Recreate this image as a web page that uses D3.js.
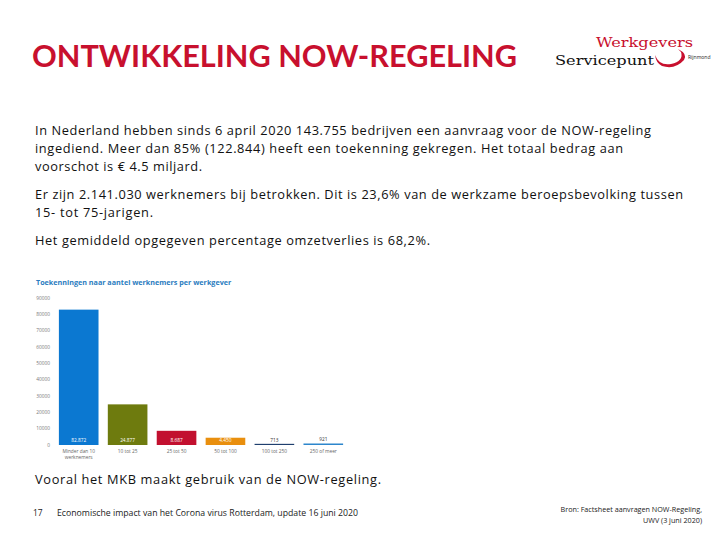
<!DOCTYPE html>
<html><head><meta charset="utf-8">
<script src="https://cdn.jsdelivr.net/npm/d3@7"></script>
<style>body{margin:0;background:#fff}svg{display:block}</style>
</head><body>
<svg id="c" width="720" height="540"></svg>
<script>
const categories = ["Minder dan 10 werknemers", "10 tot 25", "25 tot 50", "50 tot 100", "100 tot 250", "250 of meer"];
const values = [82872, 24877, 8687, 4450, 713, 921];
const valueLabels = ["82.872", "24.877", "8.687", "4.450", "713", "921"];
const yTicks = [0, 10000, 20000, 30000, 40000, 50000, 60000, 70000, 80000, 90000];
const barColors = ["#0b78d1", "#6e7b0e", "#c2102f", "#e98f0e", "#1f3f6e", "#2d86cc"];
const bodyLines = [
  ["In Nederland hebben sinds 6 april 2020 143.755 bedrijven een aanvraag voor de NOW-regeling", 135, 616],
  ["ingediend. Meer dan 85% (122.844) heeft een toekenning gekregen. Het totaal bedrag aan", 153, 588],
  ["voorschot is € 4.5 miljard.", 171, 167],
  ["Er zijn 2.141.030 werknemers bij betrokken. Dit is 23,6% van de werkzame beroepsbevolking tussen", 199, 648],
  ["15- tot 75-jarigen.", 217, 118],
  ["Het gemiddeld opgegeven percentage omzetverlies is 68,2%.", 245, 395]
];

const svg = d3.select("#c");
const font = "'Open Sans', 'Liberation Sans', sans-serif";

svg.append("text").attr("x", 32).attr("y", 67).attr("fill", "#c8102e")
  .attr("font-family", "Lato, 'Open Sans', sans-serif").attr("font-weight", "bold").attr("font-size", 30)
  .attr("textLength", 485).attr("lengthAdjust", "spacingAndGlyphs")
  .text("ONTWIKKELING NOW-REGELING");

// logo
const lg = svg.append("g");
lg.append("text").attr("x", 596).attr("y", 47).attr("fill", "#c8102e")
  .attr("font-family", "'DejaVu Serif', 'Liberation Serif', serif").attr("font-size", 13.5)
  .attr("textLength", 97).attr("lengthAdjust", "spacingAndGlyphs").text("Werkgevers");
lg.append("text").attr("x", 555).attr("y", 65).attr("fill", "#111")
  .attr("font-family", "'DejaVu Serif', 'Liberation Serif', serif").attr("font-size", 13.5)
  .attr("textLength", 99).attr("lengthAdjust", "spacingAndGlyphs").text("Servicepunt");
lg.append("path").attr("d", "M655,55 Q659,66 671,64 Q684,61 681,52 L678,49 Q688,54 684,60 Q675,70 662,66 Q656,63 655,55 Z")
  .attr("fill", "#c8102e");
lg.append("text").attr("x", 688).attr("y", 59).attr("fill", "#222")
  .attr("font-family", font).attr("font-size", 5).text("Rijnmond");

// body text
svg.append("g").selectAll("text").data(bodyLines).join("text")
  .attr("x", 35).attr("y", d => d[1]).attr("fill", "#111")
  .attr("font-family", font).attr("font-size", 12.8)
  .attr("textLength", d => d[2]).attr("lengthAdjust", "spacing")
  .text(d => d[0]);

// chart
svg.append("text").attr("x", 36).attr("y", 285).attr("fill", "#2a7cc0")
  .attr("font-family", font).attr("font-weight", "bold").attr("font-size", 7.2)
  .text("Toekenningen naar aantel werknemers per werkgever");

const x = d3.scaleBand().domain(categories).range([54, 348]).paddingInner(0.19).paddingOuter(0.1);
const y = d3.scaleLinear().domain([0, 90000]).range([445, 298]);

const g = svg.append("g");
g.selectAll(".tick").data(yTicks).join("text")
  .attr("x", 50).attr("y", d => y(d) + 1.5).attr("text-anchor", "end")
  .attr("fill", "#777").attr("font-family", font).attr("font-size", 4.8)
  .text(d => d);

g.selectAll("rect").data(values).join("rect")
  .attr("x", (d, i) => x(categories[i])).attr("width", x.bandwidth())
  .attr("y", d => y(d)).attr("height", d => y(0) - y(d))
  .attr("fill", (d, i) => barColors[i]);

g.selectAll(".vl").data(values).join("text")
  .attr("x", (d, i) => x(categories[i]) + x.bandwidth() / 2)
  .attr("y", (d, i) => d > 3000 ? y(0) - 3 : y(d) - 2)
  .attr("text-anchor", "middle").attr("font-family", font).attr("font-size", 4.8)
  .attr("fill", d => d > 3000 ? "#fff" : "#333")
  .text((d, i) => valueLabels[i]);

const catLines = [["Minder dan 10", "werknemers"], ["10 tot 25"], ["25 tot 50"], ["50 tot 100"], ["100 tot 250"], ["250 of meer"]];
categories.forEach((c, i) => {
  catLines[i].forEach((ln, j) => {
    g.append("text").attr("x", x(c) + x.bandwidth() / 2).attr("y", 453 + j * 5.5)
      .attr("text-anchor", "middle").attr("fill", "#666").attr("font-family", font)
      .attr("font-size", 4.8).text(ln);
  });
});

svg.append("text").attr("x", 35).attr("y", 484).attr("fill", "#111")
  .attr("font-family", font).attr("font-size", 12.8)
  .attr("textLength", 346).attr("lengthAdjust", "spacing")
  .text("Vooral het MKB maakt gebruik van de NOW-regeling.");

svg.append("text").attr("x", 33).attr("y", 516).attr("fill", "#222")
  .attr("font-family", font).attr("font-size", 8.5).text("17");
svg.append("text").attr("x", 57).attr("y", 516).attr("fill", "#222")
  .attr("font-family", font).attr("font-size", 8.5)
  .attr("textLength", 301).attr("lengthAdjust", "spacingAndGlyphs")
  .text("Economische impact van het Corona virus Rotterdam, update 16 juni 2020");
svg.append("text").attr("x", 702).attr("y", 512).attr("text-anchor", "end").attr("fill", "#222")
  .attr("font-family", font).attr("font-size", 7.2).text("Bron: Factsheet aanvragen NOW-Regeling,");
svg.append("text").attr("x", 702).attr("y", 523).attr("text-anchor", "end").attr("fill", "#222")
  .attr("font-family", font).attr("font-size", 7.2).text("UWV (3 juni 2020)");
</script>
</body></html>
